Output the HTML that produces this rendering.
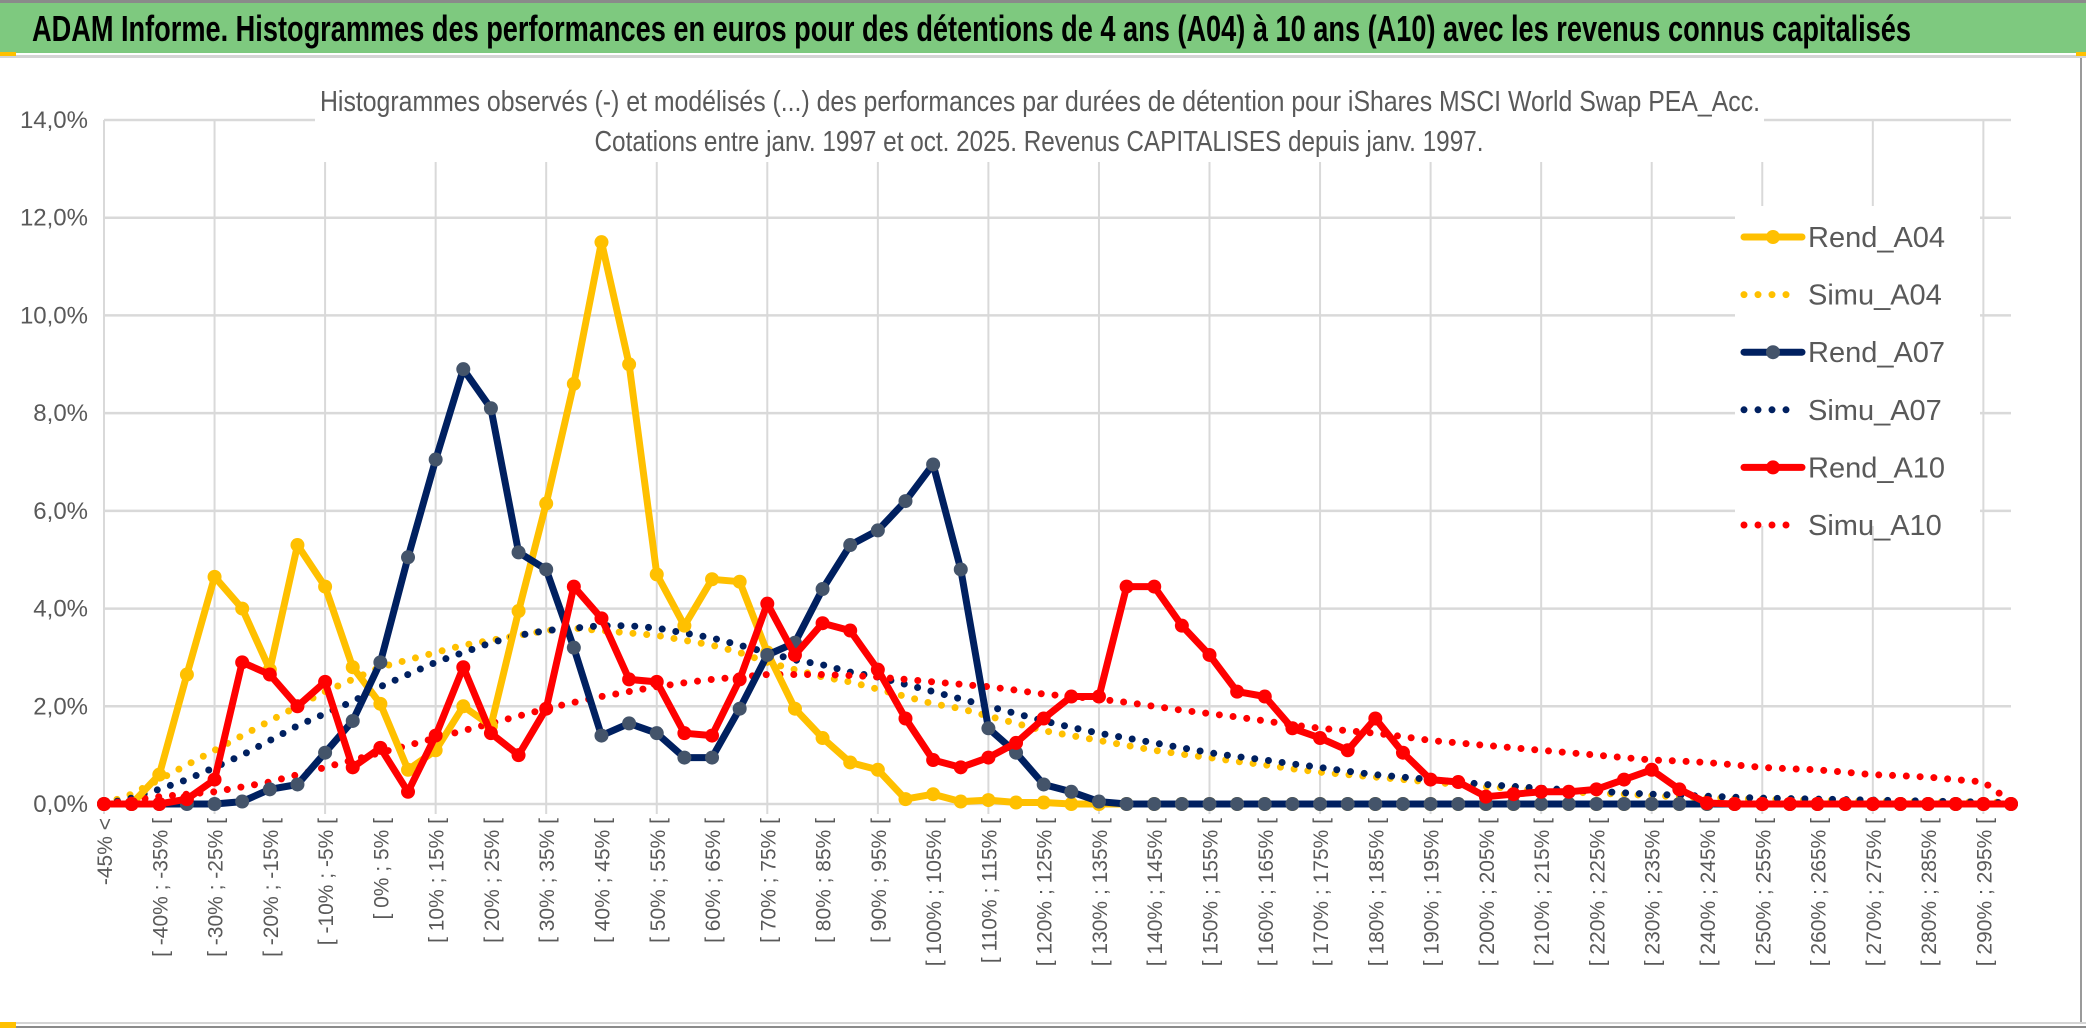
<!DOCTYPE html>
<html><head><meta charset="utf-8"><style>
html,body{margin:0;padding:0;background:#fff;}
svg{display:block;font-family:"Liberation Sans Narrow","Liberation Sans",sans-serif;}
</style></head><body>
<svg id="chart" width="2086" height="1033" viewBox="0 0 2086 1033" xmlns="http://www.w3.org/2000/svg">
<rect x="0" y="0" width="2086" height="1033" fill="#fff"/>
<rect x="0" y="3" width="2086" height="50" fill="#7ec97f"/>
<rect x="0" y="0" width="2086" height="3" fill="#8a8a8a"/>
<rect x="0" y="55" width="2086" height="3" fill="#d4d4d4"/>
<rect x="0" y="52" width="16" height="4" fill="#ffc000"/>
<rect x="2076" y="52" width="10" height="4" fill="#ffc000"/>
<rect x="2080" y="58" width="2" height="965" fill="#9a9a9a"/>
<rect x="0" y="1022" width="2086" height="2" fill="#d4d4d4"/>
<rect x="0" y="1026" width="2086" height="2" fill="#8a8a8a"/>
<rect x="0" y="1022" width="16" height="6" fill="#ffc000"/>
<text x="32" y="41" font-size="36" font-weight="bold" fill="#000" textLength="1879" lengthAdjust="spacingAndGlyphs">ADAM Informe. Histogrammes des performances en euros pour des détentions de 4 ans (A04) à 10 ans (A10) avec les revenus connus capitalisés</text>
<g id="grid"></g>
<rect x="315" y="82" width="1449" height="80" fill="#fff"/>
<text x="1040" y="111" font-size="29" fill="#595959" text-anchor="middle" textLength="1440" lengthAdjust="spacingAndGlyphs">Histogrammes observés (-) et modélisés (...) des performances par durées de détention pour iShares MSCI World Swap PEA_Acc.</text>
<text x="1039" y="151" font-size="29" fill="#595959" text-anchor="middle" textLength="889" lengthAdjust="spacingAndGlyphs">Cotations entre janv. 1997 et oct. 2025. Revenus CAPITALISES depuis janv. 1997.</text>
<g id="axes"></g>
<g id="series"></g>
<g id="legend"></g>
</svg>
<script>
const categoriesCount = 70;
const yTicks = [0, 2, 4, 6, 8, 10, 12, 14];
const rendA04 = [0,0,0.6,2.65,4.65,4.0,2.75,5.3,4.45,2.8,2.05,0.7,1.1,2.0,1.6,3.95,6.15,8.6,11.5,9.0,4.7,3.65,4.6,4.55,3.1,1.95,1.35,0.85,0.7,0.1,0.2,0.05,0.08,0.03,0.03,0,0,0,0,0,0,0,0,0,0,0,0,0,0,0,0,0,0,0,0,0,0,0,0,0,0,0,0,0,0,0,0,0,0,0];
const rendA07 = [0,0,0,0,0,0.05,0.3,0.4,1.05,1.7,2.9,5.05,7.05,8.9,8.1,5.15,4.8,3.2,1.4,1.65,1.45,0.95,0.95,1.95,3.05,3.3,4.4,5.3,5.6,6.2,6.95,4.8,1.55,1.05,0.4,0.25,0.05,0,0,0,0,0,0,0,0,0,0,0,0,0,0,0,0,0,0,0,0,0,0,0,0,0,0,0,0,0,0,0,0,0];
const rendA10 = [0,0,0,0.1,0.5,2.9,2.65,2.0,2.5,0.75,1.15,0.25,1.4,2.8,1.45,1.0,1.95,4.45,3.8,2.55,2.5,1.45,1.4,2.55,4.1,3.05,3.7,3.55,2.75,1.75,0.9,0.75,0.95,1.25,1.75,2.2,2.2,4.45,4.45,3.65,3.05,2.3,2.2,1.55,1.35,1.1,1.75,1.05,0.5,0.45,0.15,0.2,0.25,0.25,0.3,0.5,0.7,0.3,0.02,0,0,0,0,0,0,0,0,0,0,0];
const simuA04 = [0,0.2,0.5,0.8,1.1,1.4,1.7,2.0,2.3,2.55,2.8,2.95,3.1,3.25,3.35,3.45,3.55,3.6,3.55,3.5,3.45,3.35,3.25,3.1,2.9,2.75,2.6,2.5,2.35,2.2,2.05,1.95,1.8,1.65,1.5,1.4,1.3,1.2,1.1,1.02,0.95,0.87,0.8,0.72,0.65,0.6,0.55,0.5,0.45,0.4,0.35,0.32,0.28,0.25,0.22,0.2,0.17,0.15,0.13,0.11,0.1,0.09,0.08,0.07,0.06,0.055,0.05,0.045,0.04,0.03];
const simuA07 = [0,0.12,0.3,0.5,0.75,1.0,1.3,1.6,1.85,2.1,2.4,2.65,2.9,3.1,3.3,3.45,3.55,3.6,3.65,3.65,3.6,3.5,3.4,3.25,3.1,2.95,2.85,2.7,2.6,2.45,2.3,2.15,2.0,1.85,1.7,1.57,1.45,1.35,1.25,1.15,1.05,0.97,0.9,0.82,0.75,0.67,0.6,0.55,0.5,0.45,0.4,0.36,0.32,0.29,0.26,0.23,0.2,0.18,0.16,0.14,0.12,0.11,0.1,0.09,0.08,0.07,0.06,0.05,0.04,0.02];
const simuA10 = [0,0.08,0.15,0.2,0.25,0.35,0.45,0.6,0.75,0.9,1.05,1.2,1.35,1.5,1.65,1.8,1.95,2.08,2.2,2.3,2.4,2.48,2.55,2.6,2.65,2.65,2.65,2.63,2.6,2.55,2.5,2.45,2.4,2.33,2.25,2.2,2.15,2.08,2.0,1.92,1.85,1.78,1.7,1.62,1.55,1.5,1.45,1.38,1.3,1.25,1.2,1.15,1.1,1.05,1.0,0.95,0.9,0.88,0.85,0.8,0.75,0.72,0.7,0.65,0.6,0.58,0.55,0.5,0.45,0.05];

const NS = 'http://www.w3.org/2000/svg';
const X0 = 104, X1 = 2011, Y0 = 804, YTOP = 120, YMAX = 14;
const step = (X1 - X0) / (categoriesCount - 1);
function xPos(i){ return X0 + i * step; }
function yPos(v){ return Y0 - v / YMAX * (Y0 - YTOP); }
function mk(tag, attrs, parent){ const e = document.createElementNS(NS, tag); for (const k in attrs) e.setAttribute(k, attrs[k]); parent.appendChild(e); return e; }

const grid = document.getElementById('grid');
yTicks.forEach(t => {
  const l = mk('line', {x1: X0, x2: X1, y1: yPos(t), y2: yPos(t), stroke: '#d9d9d9', 'stroke-width': 2.5}, grid);
  
  
});
for (let i = 0; i < categoriesCount; i += 4) {
  const l = mk('line', {x1: xPos(i), x2: xPos(i), y1: YTOP, y2: Y0 + 10, stroke: '#d9d9d9', 'stroke-width': 2}, grid);
  
  
}

const axes = document.getElementById('axes');
yTicks.forEach(t => {
  const tx = mk('text', {x: 88, y: yPos(t) + 8, 'font-size': 24, fill: '#595959', 'text-anchor': 'end'}, axes);
  tx.textContent = t.toFixed(1).replace('.', ',') + '%';
  
  
});
function catLabel(i){
  if (i === 0) return '-45% <';
  const lo = -45 + 5 * (i - 1);
  return '[ ' + lo + '% ; ' + (lo + 5) + '% [';
}
for (let i = 0; i < categoriesCount; i += 2) {
  const x = xPos(i) + 8, y = 818;
  const tx = mk('text', {x: x, y: y, 'font-size': 21, fill: '#595959', 'text-anchor': 'end', transform: 'rotate(-90 ' + x + ' ' + y + ')', 'font-family': '"Liberation Sans",sans-serif'}, axes);
  tx.textContent = catLabel(i);
  
  
}

const series = document.getElementById('series');
function pts(arr){ return arr.map((v, i) => xPos(i).toFixed(1) + ',' + yPos(v).toFixed(1)).join(' '); }
function dotted(arr, color, name){
  const p = mk('polyline', {points: pts(arr), fill: 'none', stroke: color, 'stroke-width': 7, 'stroke-linecap': 'round', 'stroke-dasharray': '0 13.8'}, series);
  
  
}
function solid(arr, color, mcolor, name){
  const g = mk('g', {}, series);
  
  
  mk('polyline', {points: pts(arr), fill: 'none', stroke: color, 'stroke-width': 7, 'stroke-linejoin': 'round'}, g);
  arr.forEach((v, i) => {
    const c = mk('circle', {cx: xPos(i), cy: yPos(v), r: 7, fill: mcolor}, g);
    
    
  });
}
dotted(simuA04, '#ffc000', 'simu-a04-line');
dotted(simuA07, '#002060', 'simu-a07-line');
dotted(simuA10, '#ff0000', 'simu-a10-line');
solid(rendA04, '#ffc000', '#ffc000', 'rend-a04-line');
solid(rendA07, '#002060', '#44546a', 'rend-a07-line');
solid(rendA10, '#ff0000', '#ff0000', 'rend-a10-line');

const legend = document.getElementById('legend');
mk('rect', {x: 1735, y: 206, width: 245, height: 320, fill: '#fff'}, legend);
const legendNames = ['Rend_A04','Simu_A04','Rend_A07','Simu_A07','Rend_A10','Simu_A10'];
const legendColors = ['#ffc000','#ffc000','#002060','#002060','#ff0000','#ff0000'];
legendNames.forEach((n, k) => {
  const y = 237 + k * 57.6;
  const g = mk('g', {}, legend);
  
  
  if (k % 2 === 0) {
    mk('line', {x1: 1744, x2: 1802, y1: y, y2: y, stroke: legendColors[k], 'stroke-width': 7, 'stroke-linecap': 'round'}, g);
    mk('circle', {cx: 1773, cy: y, r: 7, fill: k === 2 ? '#44546a' : legendColors[k]}, g);
  } else {
    mk('line', {x1: 1744, x2: k === 5 ? 1800 : 1790, y1: y, y2: y, stroke: legendColors[k], 'stroke-width': 7, 'stroke-linecap': 'round', 'stroke-dasharray': '0 14'}, g);
  }
  const t = mk('text', {x: 1808, y: y + 10, 'font-size': 29, fill: '#595959'}, g);
  t.textContent = n;
});
</script>
</body></html>
